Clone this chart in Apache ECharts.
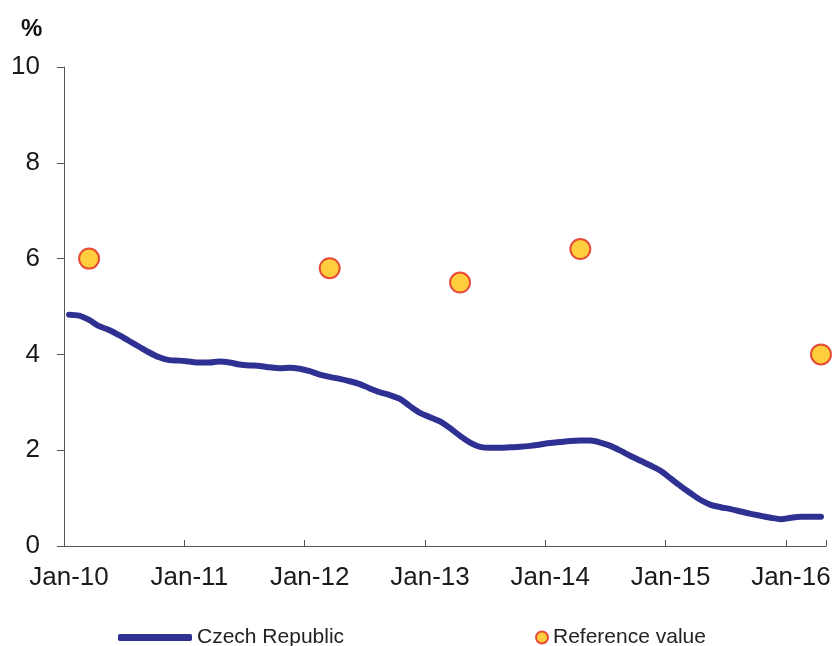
<!DOCTYPE html>
<html>
<head>
<meta charset="utf-8">
<script src="https://cdn.jsdelivr.net/npm/echarts@6/dist/echarts.min.js"></script>
<style>
  html, body { margin: 0; padding: 0; background: #fff; }
  #echarts { width: 838px; height: 646px; }
</style>
</head>
<body>
<div id="echarts"></div>
<script>
// months Jan-10 .. Apr-16
const monthNames = ['Jan', 'Feb', 'Mar', 'Apr', 'May', 'Jun', 'Jul', 'Aug', 'Sep', 'Oct', 'Nov', 'Dec'];
const years = ['10', '11', '12', '13', '14', '15', '16'];
const months = [];
years.forEach(y => monthNames.forEach(m => months.push(m + '-' + y)));
months.length = 76;

// Czech Republic, monthly (%)
const czechValues = [
    4.83, 4.81, 4.72, 4.59, 4.51, 4.40, 4.28, 4.16, 4.04, 3.94, 3.88, 3.87,
    3.85, 3.83, 3.83, 3.85, 3.83, 3.79, 3.77, 3.76, 3.73, 3.71, 3.72, 3.70,
    3.65, 3.58, 3.53, 3.49, 3.44, 3.38, 3.29, 3.21, 3.15, 3.07, 2.92, 2.78,
    2.69, 2.60, 2.46, 2.30, 2.16, 2.07, 2.05, 2.05, 2.06, 2.07, 2.09, 2.12,
    2.15, 2.17, 2.19, 2.20, 2.20, 2.16, 2.09, 1.99, 1.88, 1.78, 1.68, 1.57,
    1.41, 1.25, 1.10, 0.96, 0.86, 0.81, 0.77, 0.72, 0.67, 0.63, 0.59, 0.56,
    0.59, 0.61, 0.61, 0.61
];

// reference value points
const refMonths = ['Mar-10', 'Mar-12', 'Apr-13', 'Apr-14', 'Apr-16'];
const refValues = [6.0, 5.8, 5.5, 6.2, 4.0];

const yTicks = [0, 2, 4, 6, 8, 10];

const chartDom = document.getElementById('echarts');
const myChart = echarts.init(chartDom, null, { renderer: 'canvas' });
const font = 'Liberation Sans, Arial, sans-serif';
const isJan = (i) => i % 12 === 0;
const gridTop = 67, gridBottom = 100;
const gridHeight = 646 - gridTop - gridBottom;

let option = {
    animation: false,
    textStyle: { fontFamily: font },
    title: {
        text: '%',
        left: 16,
        top: 12,
        textStyle: { fontSize: 24, fontWeight: 'bold', color: '#111', fontFamily: font }
    },
    grid: { left: 64, right: 12, top: gridTop, bottom: gridBottom, containLabel: false },
    legend: [
        {
            left: 113,
            top: 622,
            itemWidth: 74,
            itemHeight: 7,
            textStyle: { fontSize: 21, color: '#222', fontFamily: font },
            data: [{ name: 'Czech Republic', icon: 'roundRect' }]
        },
        {
            left: 530,
            top: 622,
            itemWidth: 12,
            itemHeight: 12,
            textStyle: { fontSize: 21, color: '#222', fontFamily: font },
            data: [{ name: 'Reference value', icon: 'circle' }]
        }
    ],
    xAxis: [
        {
            type: 'category',
            data: months,
            boundaryGap: true,
            axisLine: { lineStyle: { color: '#555', width: 1 } },
            axisTick: { interval: isJan, length: 8, lineStyle: { color: '#555' } },
            axisLabel: {
                interval: isJan,
                margin: 19,
                fontSize: 26,
                color: '#1a1a1a',
                fontFamily: font
            },
            splitLine: { show: false }
        },
        {
            // upper half of the crossing ticks, moved down onto the bottom axis
            type: 'category',
            data: months,
            position: 'top',
            offset: -gridHeight,
            boundaryGap: true,
            axisLine: { show: false },
            axisTick: { show: true, interval: isJan, length: 6, lineStyle: { color: '#555' } },
            axisLabel: { show: false },
            splitLine: { show: false }
        }
    ],
    yAxis: {
        type: 'value',
        min: yTicks[0],
        max: yTicks[yTicks.length - 1],
        interval: 2,
        axisLine: { show: true, lineStyle: { color: '#555', width: 1 } },
        axisTick: { show: true, length: 7, lineStyle: { color: '#555' } },
        axisLabel: { margin: 24, fontSize: 26, color: '#1a1a1a', fontFamily: font },
        splitLine: { show: false }
    },
    series: [
        {
            name: 'Czech Republic',
            type: 'line',
            data: czechValues,
            symbol: 'none',
            smooth: 0.3,
            lineStyle: { color: '#2f3192', width: 6, cap: 'round', join: 'round' },
            itemStyle: { color: '#2f3192' },
            z: 2
        },
        {
            name: 'Reference value',
            type: 'scatter',
            data: refMonths.map((m, i) => [m, refValues[i]]),
            symbol: 'circle',
            symbolSize: 20,
            itemStyle: { color: '#ffc20e', borderColor: '#e0261c', borderWidth: 2 },
            z: 3
        }
    ]
};
option && myChart.setOption(option);
</script>
</body>
</html>
